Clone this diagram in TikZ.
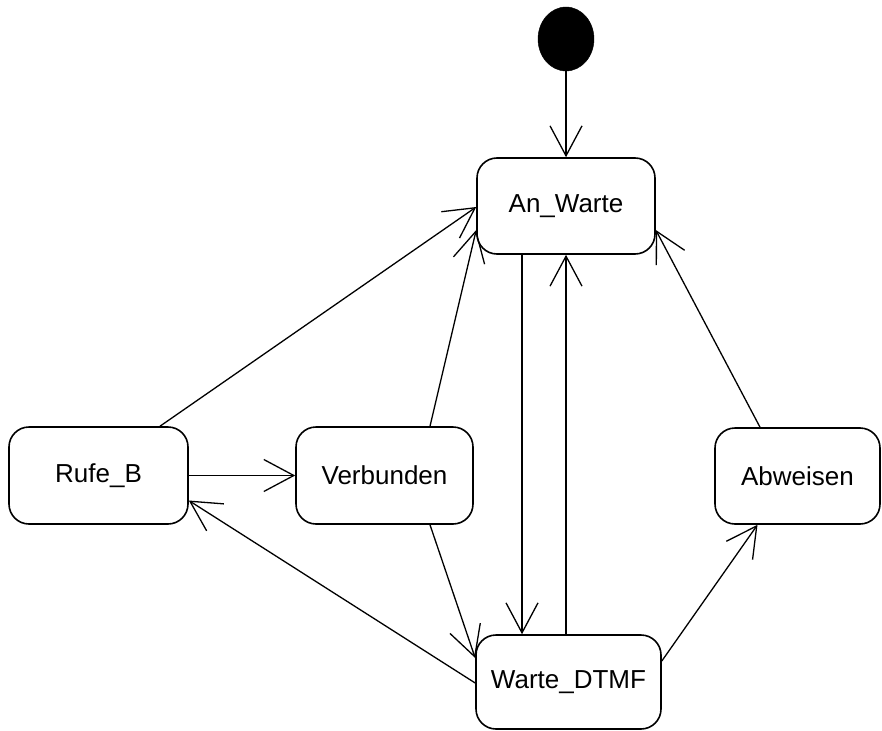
\documentclass[tikz,border=0pt]{standalone}
\usepackage{fontspec}
\setmainfont{Liberation Sans}
\usetikzlibrary{arrows.meta,shapes.geometric}
\begin{document}
\begin{tikzpicture}[x=1pt,y=-1pt,
  state/.style={draw,line width=1.6pt,rounded corners=20pt,inner sep=0pt,font=\fontsize{26}{31}\selectfont},
  trans/.style={line width=1.3pt,-{Straight Barb[length=30pt,width=32pt,line width=1.3pt]}}]
\useasboundingbox (0,0) rectangle (882,730);
\node[ellipse,fill=black,draw,minimum width=56pt,minimum height=64pt,inner sep=0pt] (init) at (566,39) {};
\node[state,minimum width=178pt,minimum height=96pt] (aw) at (566,206) {An\_Warte};
\node[state,minimum width=179pt,minimum height=97pt] (rb) at (98.5,475.5) {Rufe\_B};
\node[state,minimum width=177pt,minimum height=97pt] (vb) at (384.5,475.5) {Verbunden};
\node[state,minimum width=165pt,minimum height=96pt] (ab) at (797.5,476) {Abweisen};
\node[state,minimum width=185pt,minimum height=94pt] (wd) at (568.5,682) {Warte\_DTMF};
\draw[trans] (init.south) -- (aw.north);
\draw[trans] ([xshift=61.5pt]rb.north) -- ([yshift=-1pt]aw.west);
\draw[trans] ([xshift=45.5pt]vb.north) -- ([yshift=-24pt]aw.west);
\draw[trans] ([xshift=-44pt]aw.south) -- ([xshift=-46.5pt]wd.north);
\draw[trans] ([xshift=-2.5pt]wd.north) -- (aw.south);
\draw[trans] ([xshift=-37.5pt]ab.north) -- ([yshift=-24pt]aw.east);
\draw[trans] (rb.east) -- (vb.west);
\draw[trans] ([yshift=-1pt]wd.west) -- ([yshift=-25pt]rb.east);
\draw[trans] ([xshift=45.5pt]vb.south) -- ([yshift=24pt]wd.west);
\draw[trans] ([yshift=21pt]wd.east) -- ([xshift=-40pt]ab.south);
\end{tikzpicture}
\end{document}
